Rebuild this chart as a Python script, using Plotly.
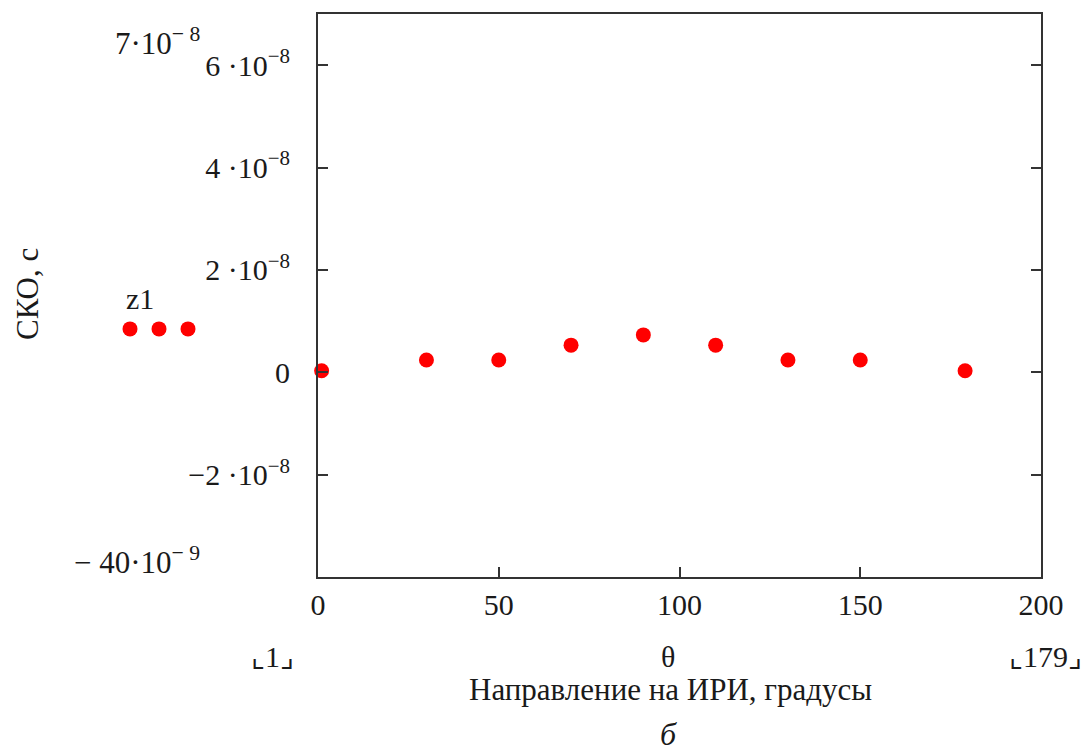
import plotly.graph_objects as go

theta = [1, 30, 50, 70, 90, 110, 130, 150, 179]
sko = [0.3e-9, 2.4e-9, 2.4e-9, 5.3e-9, 7.3e-9, 5.3e-9, 2.4e-9, 2.4e-9, 0.3e-9]

x_ticks = [0, 50, 100, 150, 200]
y_ticks = [-2e-8, 0, 2e-8, 4e-8, 6e-8]
y_ticktext = ["−2 ·10<sup>−8</sup>", "0", "2 ·10<sup>−8</sup>", "4 ·10<sup>−8</sup>", "6 ·10<sup>−8</sup>"]
x_range = [0, 200]
y_range = [-4e-8, 7e-8]

FONT = "Liberation Serif, Times New Roman, serif"
TXT = "#1a1a1a"
L, R, T, B = 318, 40, 12, 176
W, H = 1081, 753
pw, ph = W - L - R, H - T - B

def px(xp):
    return (xp - L) / pw

def py(yp):
    return (H - B - yp) / ph

fig = go.Figure()
fig.add_trace(go.Scatter(x=theta, y=sko, mode="markers",
                         marker=dict(color="#ff0000", size=15, line=dict(width=0)),
                         showlegend=False, cliponaxis=False))

axis_common = dict(showgrid=False, zeroline=False, showline=True, linecolor="#333333",
                   linewidth=2, ticks="inside", ticklen=10, tickwidth=2, tickcolor="#333333",
                   tickfont=dict(family=FONT, size=30, color=TXT))

fig.update_xaxes(range=x_range, tickvals=x_ticks, ticktext=[str(v) for v in x_ticks],
                 mirror=True, ticklabelstandoff=0, **axis_common)
fig.update_yaxes(range=y_range, tickvals=y_ticks, ticktext=y_ticktext,
                 mirror="ticks", ticklabelstandoff=20, **axis_common)

# legend marks
shapes = []
for xp in [130, 159, 188]:
    shapes.append(dict(type="circle", xref="paper", yref="paper",
                       xsizemode="pixel", ysizemode="pixel",
                       xanchor=px(xp), yanchor=py(328),
                       x0=-7.5, x1=7.5, y0=-7.5, y1=7.5,
                       fillcolor="#ff0000", line=dict(width=0)))
fig.update_layout(shapes=shapes)

ann = []
def add(text, xp, yp, xanchor="center", size=30, angle=0, italic=False):
    ann.append(dict(text=("<i>%s</i>" % text) if italic else text,
                    x=px(xp), y=py(yp), xref="paper", yref="paper",
                    xanchor=xanchor, yanchor="middle", showarrow=False,
                    textangle=angle,
                    font=dict(family=FONT, size=size, color=TXT)))

add("z1", 140, 298)
add("7·10<sup>− 8</sup>", 202, 40, xanchor="right", size=31)
add("− 40·10<sup>− 9</sup>", 202, 560, xanchor="right", size=31)
add("⌞1⌟", 272, 657)
add("θ", 668, 657)
add("⌞179⌟", 1045, 657)
add("Направление на ИРИ, градусы", 670, 690, size=31)
add("б", 668, 735, size=32, italic=True)
add("СКО, с", 27, 293, angle=-90, size=31)
fig.update_layout(annotations=ann)

fig.update_layout(width=W, height=H, margin=dict(l=L, r=R, t=T, b=B),
                  paper_bgcolor="white", plot_bgcolor="white")

fig.write_html("out.html")
